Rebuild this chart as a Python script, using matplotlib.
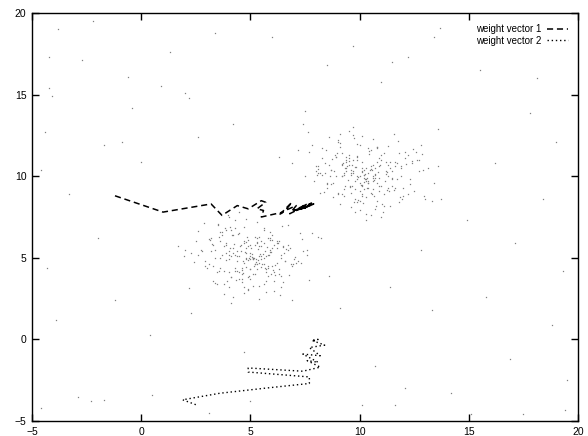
import numpy as np
import matplotlib.pyplot as plt

# sample points, cluster around (5, 5)
c1_x = [4.2, 5.6, 3.9, 6.1, 4.8, 5.3, 2.9, 5.0, 6.7, 4.5, 5.9, 3.6, 5.2, 4.0, 6.4,
        5.5, 4.7, 3.2, 5.8, 4.9, 6.9, 4.3, 5.1, 3.8, 6.2, 4.6, 5.4, 7.3, 4.1, 5.7,
        3.4, 5.0, 6.0, 4.4, 5.3, 2.6, 4.9, 6.5, 5.2, 3.7, 4.8, 6.3, 5.6, 4.2, 7.0,
        3.9, 5.1, 4.6, 6.8, 5.4, 3.3, 4.7, 5.9, 4.0, 6.1, 5.0, 3.5, 5.7, 4.3, 7.6,
        4.9, 5.5, 2.3, 6.0, 4.5, 5.2, 3.8, 6.6, 4.1, 5.8, 4.7, 3.1, 5.3, 6.4, 4.4,
        5.0, 8.1, 3.6, 5.6, 4.8, 6.2, 4.0, 5.4, 3.0, 5.9, 4.6, 6.7, 5.1, 3.7, 4.3,
        5.7, 2.0, 4.9, 6.3, 5.2, 3.9, 4.5, 7.2, 5.5, 4.1, 6.0, 3.4, 5.3, 4.7, 6.9,
        4.2, 5.8, 3.2, 5.0, 6.5, 4.8, 5.6, 2.8, 4.4, 6.1, 5.1, 3.6, 5.4, 4.0, 7.8,
        4.6, 5.9, 3.8, 6.4, 5.2, 4.3, 1.7, 5.7, 4.9, 6.6, 3.5, 5.0, 4.5, 6.2, 5.3,
        8.6, 4.1, 5.5, 3.3, 6.0, 4.7, 5.8, 4.0, 7.4, 5.1, 3.9, 4.8, 6.3, 5.6, 2.5,
        4.37, 5.82, 3.15, 6.48, 4.93, 5.26, 2.74, 5.61, 6.03, 4.58,
        3.92, 5.44, 7.11, 4.16, 5.07, 3.48, 6.27, 4.71, 5.95, 2.41,
        4.84, 6.62, 3.77, 5.33, 4.29, 7.58, 5.18, 3.63, 6.14, 4.52,
        5.71, 1.96, 4.05, 6.86, 5.39, 3.24, 4.66, 5.88, 7.37, 4.47,
        5.02, 3.86, 6.39, 4.21, 5.57, 2.93, 6.71, 4.98, 3.54, 5.66,
        4.33, 8.24, 5.13, 3.71, 6.08, 4.79, 5.49, 2.62, 6.53, 4.12,
        5.24, 3.99, 7.04, 4.61, 5.78, 3.37, 6.21, 4.89, 5.35, 2.18,
        4.44, 6.94, 5.09, 3.82, 5.93, 4.26, 7.69, 4.73, 5.52, 3.09,
        6.34, 4.57, 5.16, 3.58, 6.76, 4.08, 5.68, 2.86, 4.95, 6.12,
        5.29, 3.45, 7.26, 4.68, 5.85, 4.02, 6.45, 3.31, 5.41, 4.81]
c1_y = [5.3, 4.6, 5.9, 4.1, 5.0, 6.2, 4.8, 3.7, 5.5, 5.1, 6.6, 4.4, 5.8, 3.2, 5.2,
        4.9, 6.0, 5.4, 3.9, 5.7, 4.5, 6.8, 5.0, 4.2, 5.6, 3.5, 6.3, 4.7, 5.1, 2.9,
        5.5, 4.3, 6.1, 4.8, 7.2, 5.2, 3.8, 5.7, 4.6, 6.4, 5.3, 4.0, 5.9, 2.6, 4.9,
        6.7, 5.0, 4.4, 5.6, 3.3, 5.8, 4.7, 6.2, 5.4, 3.6, 4.9, 7.0, 5.1, 4.2, 5.5,
        3.0, 6.0, 5.3, 4.5, 6.5, 4.0, 5.7, 4.8, 2.2, 5.2, 6.9, 4.6, 5.9, 3.9, 5.4,
        4.3, 6.3, 5.0, 3.4, 5.6, 4.7, 7.5, 5.1, 4.4, 6.1, 3.7, 5.8, 4.9, 6.6, 5.2,
        4.1, 5.5, 3.1, 6.0, 4.6, 5.3, 7.8, 4.8, 5.7, 3.8, 6.4, 5.0, 4.3, 5.9, 2.4,
        5.6, 4.5, 6.2, 5.1, 3.5, 4.9, 6.8, 5.4, 4.2, 5.8, 3.3, 6.0, 4.7, 5.2, 6.5,
        4.0, 5.5, 2.8, 5.0, 6.3, 4.4, 5.7, 3.6, 6.1, 4.8, 7.1, 5.3, 4.1, 5.9, 4.6,
        3.9, 6.7, 5.1, 4.5, 5.6, 3.2, 6.2, 4.9, 5.4, 4.0, 5.8, 7.4, 4.3, 5.0, 6.0,
        5.12, 4.37, 6.08, 5.64, 3.86, 4.95, 5.47, 6.72, 4.23, 5.81,
        3.58, 5.26, 4.69, 6.41, 5.03, 4.14, 5.92, 2.83, 5.38, 4.77,
        6.26, 5.55, 3.42, 4.88, 7.33, 5.19, 4.51, 6.57, 3.97, 5.71,
        4.32, 5.08, 6.89, 4.63, 2.47, 5.86, 4.06, 5.34, 6.14, 3.73,
        5.61, 4.84, 3.19, 6.37, 5.22, 4.47, 7.04, 5.77, 4.18, 5.43,
        3.64, 6.21, 4.92, 5.15, 2.96, 5.98, 4.41, 6.63, 5.29, 3.81,
        4.74, 7.61, 5.06, 4.28, 5.69, 3.47, 6.02, 4.86, 5.51, 3.12,
        6.47, 4.59, 5.24, 6.81, 4.01, 5.87, 3.67, 5.36, 4.65, 6.18,
        2.71, 5.42, 4.97, 6.29, 3.92, 5.58, 4.36, 7.16, 5.01, 4.53,
        5.94, 3.38, 6.54, 4.79, 5.17, 4.12, 6.96, 3.56, 5.73, 4.43]

# sample points, cluster around (10, 10)
c2_x = [9.6, 10.8, 8.9, 11.3, 10.1, 9.2, 12.0, 10.5, 8.4, 9.9, 11.6, 10.3, 7.8, 10.9, 9.4,
        11.1, 9.7, 10.6, 8.7, 12.4, 10.0, 9.3, 11.8, 10.4, 8.1, 9.8, 11.0, 10.2, 12.9, 9.1,
        10.7, 8.6, 11.4, 9.5, 10.1, 7.5, 10.8, 9.0, 11.9, 10.3, 9.6, 12.6, 8.8, 10.5, 11.2,
        9.4, 10.0, 8.3, 11.5, 9.9, 10.7, 13.3, 9.2, 10.4, 8.5, 11.7, 10.1, 9.7, 12.2, 10.6,
        8.0, 9.5, 11.0, 10.2, 9.1, 12.7, 10.9, 8.7, 10.3, 11.3, 9.8, 7.2, 10.6, 9.3, 11.9,
        10.0, 8.9, 11.5, 9.6, 10.8, 12.3, 9.0, 10.4, 8.2, 11.1, 9.9, 10.5, 13.0, 9.4, 10.7,
        8.6, 11.6, 10.1, 9.2, 12.1, 10.3, 8.4, 9.8, 11.2, 10.9, 7.7, 10.0, 11.8, 9.5, 10.6,
        9.1, 12.5, 10.2, 8.8, 11.4, 9.7, 10.4, 8.1, 11.0, 9.3, 13.6, 10.7, 9.9, 11.7, 10.1,
        8.5, 10.8, 9.6, 12.0, 10.3, 9.0, 11.3, 6.9, 10.5, 9.4, 11.9, 10.0, 8.7, 12.8, 9.8,
        10.6, 11.1, 9.2, 10.2, 8.3, 11.5, 9.7, 10.9, 12.2, 9.5, 10.4, 8.0, 11.0, 10.1, 9.9,
        10.27, 9.43, 11.56, 8.72, 10.84, 9.91, 12.38, 10.06, 8.27, 11.19,
        9.62, 10.51, 7.93, 11.74, 9.18, 10.39, 12.87, 9.76, 10.94, 8.53,
        11.32, 9.28, 10.67, 13.12, 9.54, 10.13, 8.06, 11.47, 9.87, 10.76,
        12.14, 9.35, 10.45, 8.81, 11.08, 9.69, 10.22, 12.61, 9.02, 10.58,
        7.64, 11.27, 9.83, 10.36, 8.97, 11.93, 10.09, 9.48, 12.45, 10.71,
        8.38, 9.74, 11.41, 10.17, 9.26, 13.41, 10.89, 8.64, 10.31, 11.62,
        9.57, 10.02, 8.19, 11.83, 9.38, 10.63, 12.06, 9.93, 10.47, 7.41,
        11.15, 9.64, 10.81, 8.86, 12.29, 10.24, 9.12, 11.36, 9.79, 10.56,
        8.44, 12.71, 10.11, 9.51, 11.04, 9.86, 10.68, 8.11, 11.57, 10.33,
        9.21, 12.93, 10.42, 8.92, 11.24, 9.67, 10.79, 13.74, 9.33, 10.18]
c2_y = [10.4, 9.6, 11.2, 10.0, 8.8, 10.7, 9.3, 11.6, 10.2, 8.4, 10.9, 9.8, 11.9, 9.1, 10.5,
        8.9, 10.3, 12.3, 9.5, 10.8, 7.9, 10.1, 11.4, 9.7, 10.6, 8.6, 11.0, 9.2, 10.4, 12.6,
        9.9, 10.7, 8.2, 11.3, 9.4, 10.0, 11.8, 9.0, 10.6, 8.7, 10.2, 11.5, 9.6, 7.6, 10.9,
        10.3, 9.1, 11.1, 9.8, 12.0, 10.5, 8.5, 10.0, 11.7, 9.3, 10.8, 8.9, 10.2, 11.3, 9.7,
        10.6, 12.8, 9.4, 10.1, 8.3, 11.0, 9.9, 10.4, 7.3, 10.7, 9.2, 11.6, 10.0, 8.8, 10.5,
        9.6, 11.2, 10.3, 8.1, 10.9, 9.5, 12.1, 10.2, 9.0, 11.4, 9.8, 10.6, 8.6, 11.0, 10.1,
        12.4, 9.3, 10.5, 8.9, 11.1, 9.7, 10.8, 7.8, 10.3, 9.4, 11.5, 10.0, 8.4, 10.7, 9.9,
        11.8, 9.1, 10.4, 8.7, 10.9, 13.0, 9.6, 10.2, 11.3, 9.2, 10.6, 8.0, 11.0, 9.8, 10.3,
        9.5, 11.7, 10.1, 8.8, 10.5, 12.2, 9.3, 10.8, 9.0, 11.2, 10.0, 8.5, 10.4, 11.9, 9.7,
        10.7, 8.2, 11.4, 9.9, 10.1, 9.4, 12.5, 10.6, 8.9, 11.1, 9.6, 10.3, 7.5, 10.9, 10.0,
        9.83, 10.62, 9.14, 11.07, 10.28, 8.57, 10.91, 9.46, 11.72, 10.13,
        8.96, 10.44, 9.71, 12.17, 10.02, 9.27, 11.36, 8.42, 10.68, 9.58,
        11.84, 10.21, 8.77, 10.53, 9.33, 12.46, 10.07, 9.89, 11.21, 8.19,
        10.76, 9.42, 11.53, 10.34, 7.81, 10.97, 9.63, 11.02, 8.88, 10.41,
        12.71, 9.17, 10.59, 9.92, 11.44, 8.63, 10.26, 9.77, 11.68, 10.11,
        9.04, 12.33, 10.48, 8.34, 10.83, 9.56, 11.13, 10.04, 7.67, 10.64,
        9.37, 11.91, 10.18, 8.71, 10.87, 9.24, 11.49, 9.96, 10.38, 13.22,
        9.69, 10.71, 8.49, 11.28, 9.81, 10.16, 12.04, 9.12, 10.57, 8.92,
        11.62, 10.29, 9.49, 10.94, 8.27, 11.17, 9.74, 10.47, 12.58, 9.28,
        10.74, 8.81, 11.39, 9.99, 10.23, 9.41, 11.78, 8.58, 10.52, 10.09]

# background points spread over the whole square
bg_x = [-3.8, -4.2, -2.7, -0.6, 1.3, 0.9, -4.2, -4.1, 2.0, 2.2, -0.4, -4.4, -1.7, -0.9,
        13.7, 13.4, 11.5, 6.0, 8.5, 4.2, 7.5, 11.0, 15.5, 17.8, 19.0, 16.2, 18.4, 14.9,
        17.1, 19.3, 15.8, 18.8, 13.3, 16.9, 19.5, 14.2, 17.5, 19.4, 10.1, 11.6, 12.1, 15.1,
        -4.6, -2.9, -2.3, -1.7, 0.5, 3.1, 5.0, -3.9, -1.2, 0.4, 2.3, -4.3, -2.0, -3.3,
        -4.6, 0.0, 2.6, 6.3, 9.1, 11.4, 12.8, 4.7, 10.7, 13.6, 12.2, 3.4, -2.2, 9.7, 16.8, 18.1]
bg_y = [19.0, 17.3, 17.1, 16.1, 17.6, 15.5, 15.4, 14.9, 15.1, 14.8, 14.2, 12.7, 11.9, 12.1,
        19.1, 18.5, 17.0, 18.5, 16.8, 13.2, 14.0, 15.8, 16.5, 13.9, 12.1, 10.8, 8.6, 7.3,
        5.9, 4.2, 2.6, 0.9, 1.8, -1.2, -2.5, -3.3, -4.6, -4.3, -4.0, -4.0, -3.0, -4.6,
        -4.2, -3.5, -3.8, -3.7, -3.4, -4.5, -3.8, 1.2, 2.4, 0.3, 1.6, 4.4, 6.2, 8.9,
        10.4, 10.9, 12.4, 11.2, 1.9, 3.2, 5.5, -0.8, -1.6, 12.9, 17.3, 18.8, 19.5, 18.0, 18.9, 16.0]

# weight vector trajectories
w1_x = [-1.2, 1.0, 3.2, 3.7, 4.4, 4.9, 5.5, 5.7, 5.3, 5.6, 5.5, 6.5, 6.3, 6.9, 6.6,
        7.1, 6.8, 7.4, 7.0, 7.6, 7.2, 7.8, 7.3, 7.9, 7.5, 7.7, 7.1, 7.6, 7.85]
w1_y = [8.8, 7.8, 8.3, 7.6, 8.2, 8.0, 8.5, 8.4, 8.0, 7.9, 7.5, 7.8, 7.6, 8.4, 7.9,
        8.2, 7.7, 8.1, 7.9, 8.3, 8.0, 8.35, 7.95, 8.3, 8.05, 8.25, 7.9, 8.15, 8.3]
w2_x = [2.5, 1.9, 3.6, 5.6, 7.7, 7.7, 4.9, 4.9, 7.4, 8.2, 7.6, 8.1, 7.4, 8.2, 7.7,
        8.4, 7.8, 8.1, 7.9]
w2_y = [-4.0, -3.7, -3.3, -3.0, -2.7, -2.3, -2.0, -1.75, -1.95, -1.7, -1.3, -1.4, -0.9,
        -1.0, -0.5, -0.35, -0.05, 0.0, -0.1]

ticks = [-5, 0, 5, 10, 15, 20]


def main() -> None:
    plt.rcParams["font.family"] = ["Liberation Sans", "DejaVu Sans"]
    fig = plt.figure(figsize=(5.88, 4.36), dpi=100)
    ax = fig.add_axes([32 / 588, 1 - 421 / 436, 546 / 588, 408 / 436])

    pts_x = np.concatenate([c1_x, c2_x, bg_x])
    pts_y = np.concatenate([c1_y, c2_y, bg_y])
    ax.plot(pts_x, pts_y, ls="", marker="s", ms=0.9, mew=0, color="0.5")

    ax.plot(w1_x, w1_y, color="black", lw=1.1, dashes=(4, 2.5), label="weight vector 1")
    ax.plot(w2_x, w2_y, color="black", lw=1.0, dashes=(1, 2), label="weight vector 2")

    ax.set_xlim(-5, 20)
    ax.set_ylim(-5, 20)
    ax.set_xticks(ticks)
    ax.set_yticks(ticks)
    ax.tick_params(direction="in", length=5, width=1, labelsize=7.5,
                   top=True, right=True, pad=4)
    for s in ax.spines.values():
        s.set_linewidth(1.0)

    ax.legend(loc="upper right", bbox_to_anchor=(0.982, 0.972), frameon=False,
              markerfirst=False, fontsize=7, handlelength=2.2, handletextpad=0.6,
              labelspacing=0.15, borderaxespad=0, borderpad=0)

    fig.savefig("out.png", dpi=100)
    plt.close(fig)


if __name__ == "__main__":
    main()
